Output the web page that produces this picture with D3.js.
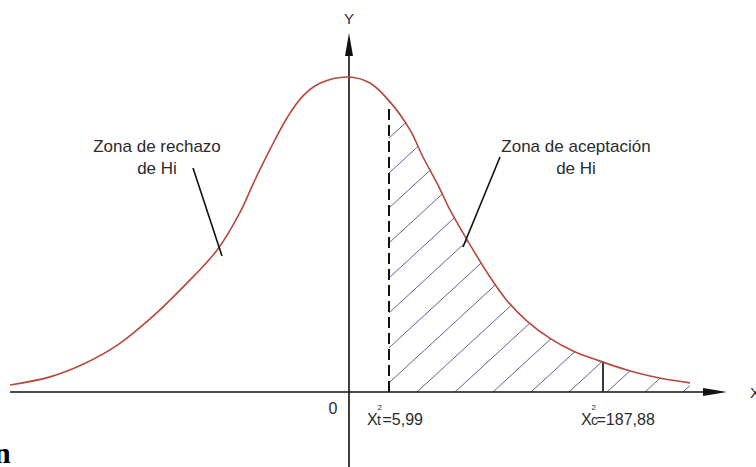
<!DOCTYPE html>
<html>
<head>
<meta charset="utf-8">
<script src="https://cdn.jsdelivr.net/npm/d3@7"></script>
<style>
  body { margin: 0; background: #fff; }
  svg { display: block; }
  .lbl { font-family: 'Liberation Sans', Arial, sans-serif; fill: #2b2b2b; }
</style>
</head>
<body>
<div id="chart"></div>
<script>
// curve: x in axis units (0 = Y axis), y relative to the peak
const curveX = [-3.39, -2.99, -2.66, -2.32, -1.99, -1.66, -1.32, -1.09, -0.96, -0.79, -0.62, -0.46, -0.29, -0.01,
  0.21, 0.41, 0.61, 0.74, 0.88, 1.01, 1.14, 1.41, 1.58, 1.78, 2.01, 2.24, 2.51, 2.78, 3.08, 3.41];
const curveY = [0.022, 0.048, 0.088, 0.148, 0.232, 0.333, 0.45, 0.57, 0.66, 0.77, 0.87, 0.94, 0.98, 1.0,
  0.981, 0.921, 0.832, 0.746, 0.663, 0.578, 0.505, 0.365, 0.29, 0.225, 0.17, 0.13, 0.098, 0.070, 0.046, 0.029];

// critical values on the x axis
const markerNames = ['t', 'c'];
const markerValues = ['5,99', '187,88'];
const markerX = [0.40, 2.54];

const zoneLabels = [['Zona de rechazo', 'de Hi'], ['Zona de aceptación', 'de Hi']];

const width = 756;
const height = 467;

const svg = d3.select('#chart').append('svg')
  .attr('width', width)
  .attr('height', height);

svg.append('rect').attr('width', width).attr('height', height).attr('fill', '#fff');

const xScale = d3.scaleLinear().domain([-3.39, 3.78]).range([10, 727]);
const yScale = d3.scaleLinear().domain([0, 1]).range([392, 77]);

const data = curveX.map((x, i) => ({ x, y: curveY[i] }));

const line = d3.line()
  .x(d => xScale(d.x))
  .y(d => yScale(d.y))
  .curve(d3.curveCatmullRom.alpha(0.5));

const area = d3.area()
  .x(d => xScale(d.x))
  .y0(yScale(0))
  .y1(d => yScale(d.y))
  .curve(d3.curveCatmullRom.alpha(0.5));

const defs = svg.append('defs');
defs.append('clipPath').attr('id', 'underCurve')
  .append('path').attr('d', area(data));
defs.append('clipPath').attr('id', 'rightOfT')
  .append('rect')
  .attr('x', xScale(markerX[0]))
  .attr('y', 0)
  .attr('width', width)
  .attr('height', yScale(0));

// hatching of the acceptance zone
const hatchStep = 38;
const hatchSlope = 0.92;
const hatchStart = 417;
const hatch = svg.append('g').attr('clip-path', 'url(#rightOfT)')
  .append('g').attr('clip-path', 'url(#underCurve)');

hatch.selectAll('line')
  .data(d3.range(-10, 10).map(k => hatchStart + k * hatchStep))
  .join('line')
  .attr('x1', d => d)
  .attr('y1', yScale(0))
  .attr('x2', d => d + 340 / hatchSlope)
  .attr('y2', yScale(0) - 340)
  .attr('stroke', '#5d6399')
  .attr('stroke-width', 1);

// x axis with arrow
const axisY = yScale(0);
svg.append('line')
  .attr('x1', xScale(-3.39)).attr('x2', 706)
  .attr('y1', axisY).attr('y2', axisY)
  .attr('stroke', '#111').attr('stroke-width', 1.6);
svg.append('path')
  .attr('d', `M703,${axisY - 4}L727,${axisY}L703,${axisY + 4}Z`)
  .attr('fill', '#111');

// y axis with arrow
const axisX = xScale(0);
svg.append('line')
  .attr('x1', axisX).attr('x2', axisX)
  .attr('y1', height).attr('y2', 52)
  .attr('stroke', '#111').attr('stroke-width', 1.6);
svg.append('path')
  .attr('d', `M${axisX - 4},56L${axisX},33L${axisX + 4},56Z`)
  .attr('fill', '#111');
svg.append('text')
  .attr('class', 'lbl')
  .attr('x', axisX)
  .attr('y', 24)
  .attr('text-anchor', 'middle')
  .style('font-size', '15px')
  .text('Y');

// critical value lines
svg.append('line')
  .attr('x1', xScale(markerX[0])).attr('x2', xScale(markerX[0]))
  .attr('y1', axisY).attr('y2', yScale(0.91))
  .attr('stroke', '#111').attr('stroke-width', 2)
  .attr('stroke-dasharray', '11,5');
svg.append('line')
  .attr('x1', xScale(markerX[1])).attr('x2', xScale(markerX[1]))
  .attr('y1', axisY).attr('y2', yScale(0.098))
  .attr('stroke', '#222').attr('stroke-width', 1.8);

// the curve
svg.append('path')
  .datum(data)
  .attr('d', line)
  .attr('fill', 'none')
  .attr('stroke', '#b8473c')
  .attr('stroke-width', 1.6);

// origin label
svg.append('text')
  .attr('class', 'lbl')
  .attr('x', axisX - 16)
  .attr('y', 414)
  .attr('text-anchor', 'middle')
  .style('font-size', '16px')
  .text('0');

// critical value labels: X with stacked 2 and subscript
markerX.forEach((mx, i) => {
  const x0 = xScale(mx) - 22;
  const g = svg.append('g');
  g.append('text')
    .attr('class', 'lbl')
    .attr('x', x0)
    .attr('y', 425)
    .style('font-size', '16px')
    .text('X');
  g.append('text')
    .attr('class', 'lbl')
    .attr('x', x0 + 10.5)
    .attr('y', 410)
    .style('font-size', '8px')
    .text('2');
  g.append('text')
    .attr('class', 'lbl')
    .attr('x', x0 + 10)
    .attr('y', 425)
    .style('font-size', '14px')
    .text(markerNames[i]);
  g.append('text')
    .attr('class', 'lbl')
    .attr('x', x0 + 15.5)
    .attr('y', 425)
    .style('font-size', '16px')
    .text('=' + markerValues[i]);
});

// zone labels with leader lines
const zonePos = [[157, 152], [576, 152]];
const leaders = [[193, 168, 222, 256], [500, 157, 463, 247]];
zoneLabels.forEach((lines, i) => {
  const t = svg.append('text')
    .attr('class', 'lbl')
    .attr('text-anchor', 'middle')
    .style('font-size', '17px');
  lines.forEach((s, j) => {
    t.append('tspan')
      .attr('x', zonePos[i][0])
      .attr('y', zonePos[i][1] + j * 22)
      .text(s);
  });
  const l = leaders[i];
  svg.append('line')
    .attr('x1', l[0]).attr('y1', l[1])
    .attr('x2', l[2]).attr('y2', l[3])
    .attr('stroke', '#111').attr('stroke-width', 1.6);
});

// clipped axis name at the right edge and stray glyph at bottom left
svg.append('text')
  .attr('class', 'lbl')
  .attr('x', 750)
  .attr('y', 398)
  .style('font-size', '15px')
  .text('X');
svg.append('text')
  .attr('x', -6)
  .attr('y', 463)
  .style('font-family', "'Liberation Serif', serif")
  .style('font-weight', 'bold')
  .style('font-size', '30px')
  .text('n');
</script>
</body>
</html>
